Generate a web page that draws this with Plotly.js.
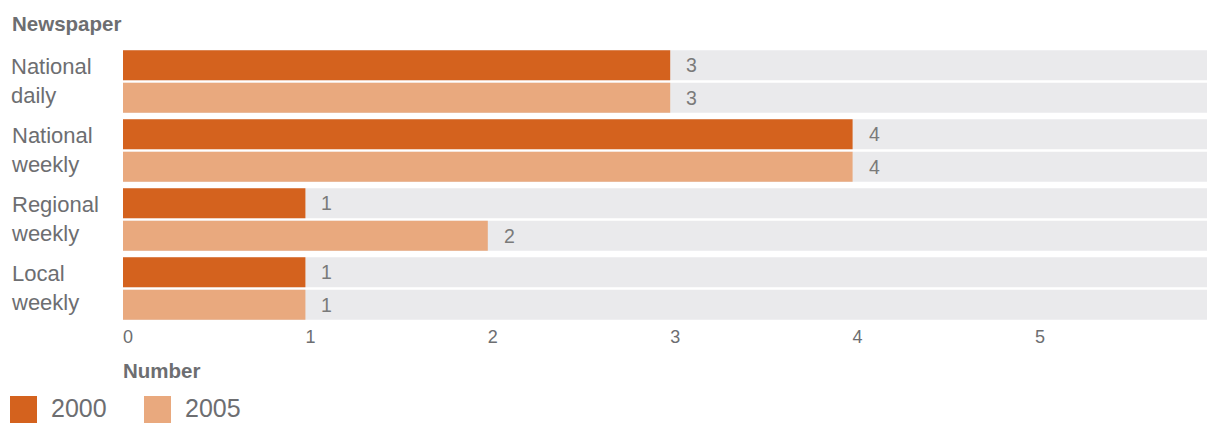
<!DOCTYPE html>
<html><head><meta charset="utf-8">
<script src="https://cdn.plot.ly/plotly-3.0.1.min.js"></script>
<style>body{margin:0;background:#fff}#c{width:1207px;height:423px}</style>
</head><body><div id="c"></div>
<script>
const categories = ["National daily", "National weekly", "Regional weekly", "Local weekly"];
const catLabels = ["National<br>daily", "National<br>weekly", "Regional<br>weekly", "Local<br>weekly"];
const seriesNames = ["2000", "2005"];
const values2000 = [3, 4, 1, 1];
const values2005 = [3, 4, 2, 1];
const xTicks = [0, 1, 2, 3, 4, 5];
const xMax = 5.943;

const W = 1207, H = 423, ML = 123, MR = 0, MT = 47, MB = 100;
const PW = W - ML - MR, PH = H - MT - MB;
const px2x = p => (p - ML) / PW;
const py2y = p => (H - MB - p) / PH;

const C1 = '#d4621e', C2 = '#e9a97e', BG = '#eaeaec', TXT = '#6d6e71';
const FONT = 'Liberation Sans, Arial, sans-serif';
const bw = 0.435, off1 = -0.4525, off2 = 0.0175;

function barTrace(vals, color, offset, name, bg) {
  return {
    type: 'bar', orientation: 'h', y: categories, x: bg ? categories.map(() => xMax) : vals,
    marker: {color: color, line: {width: 0}}, width: bw, offset: offset,
    name: name, showlegend: false, hoverinfo: 'skip'
  };
}
const data = [
  barTrace(null, BG, off1, 'bg1', true),
  barTrace(null, BG, off2, 'bg2', true),
  barTrace(values2000, C1, off1, seriesNames[0], false),
  barTrace(values2005, C2, off2, seriesNames[1], false)
];

const annotations = [];
categories.forEach((c, i) => {
  annotations.push({xref: 'paper', yref: 'y', x: px2x(9), y: i, yshift: 1, text: catLabels[i],
    xanchor: 'left', yanchor: 'middle', align: 'left', showarrow: false,
    font: {family: FONT, size: 22, color: TXT}});
  annotations.push({xref: 'x', yref: 'y', x: values2000[i], y: i + off1 + bw / 2, text: String(values2000[i]),
    xanchor: 'left', yanchor: 'middle', showarrow: false, xshift: 14,
    font: {family: FONT, size: 19.5, color: '#7a7a7a'}});
  annotations.push({xref: 'x', yref: 'y', x: values2005[i], y: i + off2 + bw / 2, text: String(values2005[i]),
    xanchor: 'left', yanchor: 'middle', showarrow: false, xshift: 14,
    font: {family: FONT, size: 19.5, color: '#7a7a7a'}});
});
annotations.push({xref: 'paper', yref: 'paper', x: px2x(10), y: py2y(23), text: '<b>Newspaper</b>',
  xanchor: 'left', yanchor: 'middle', showarrow: false, font: {family: FONT, size: 20.5, color: TXT}});
annotations.push({xref: 'paper', yref: 'paper', x: px2x(121), y: py2y(371), text: '<b>Number</b>',
  xanchor: 'left', yanchor: 'middle', showarrow: false, font: {family: FONT, size: 20.5, color: TXT}});

const shapes = [];
const legendItems = [{name: seriesNames[0], color: C1, x: 10}, {name: seriesNames[1], color: C2, x: 144}];
legendItems.forEach(it => {
  shapes.push({type: 'rect', xref: 'paper', yref: 'paper', x0: px2x(it.x), x1: px2x(it.x + 27),
    y0: py2y(396), y1: py2y(423), fillcolor: it.color, line: {width: 0}});
  annotations.push({xref: 'paper', yref: 'paper', x: px2x(it.x + 40), y: py2y(408), text: it.name,
    xanchor: 'left', yanchor: 'middle', showarrow: false, borderpad: 0, font: {family: FONT, size: 25, color: TXT}});
});

const layout = {
  width: W, height: H, margin: {l: ML, r: MR, t: MT, b: MB},
  paper_bgcolor: '#fff', plot_bgcolor: '#fff',
  barmode: 'overlay', showlegend: false,
  xaxis: {range: [0, xMax], tickvals: xTicks, ticktext: xTicks.map(String), showgrid: false, zeroline: false,
    showline: false, ticks: '', ticklabelshift: 5, ticklabelstandoff: 1,
    tickfont: {family: FONT, size: 18, color: TXT}, fixedrange: true},
  yaxis: {type: 'category', range: [3.5, -0.5], showticklabels: false, showgrid: false, zeroline: false,
    showline: false, ticks: '', fixedrange: true},
  annotations: annotations, shapes: shapes
};
Plotly.newPlot('c', data, layout, {displayModeBar: false, staticPlot: true});
</script></body></html>
